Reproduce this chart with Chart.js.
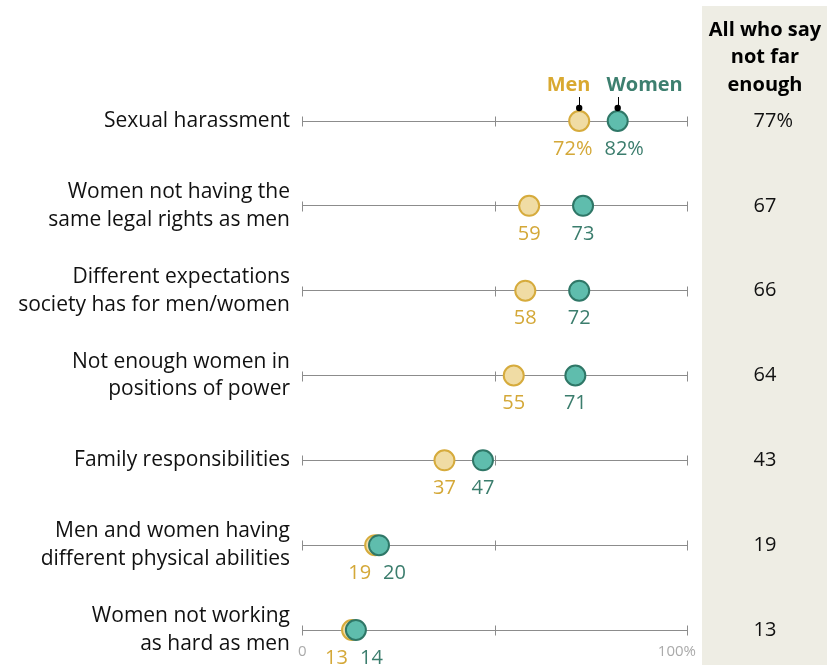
<!DOCTYPE html>
<html><head><meta charset="utf-8">
<script src="https://cdn.jsdelivr.net/npm/chart.js@4"></script>
<style>html,body{margin:0;padding:0;background:#fff}#wrap{width:827px;height:665px;position:relative}</style>
</head><body><div id="wrap"><canvas id="c" width="827" height="665"></canvas></div>
<script>
const categories = [
  ["Sexual harassment"],
  ["Women not having the", "same legal rights as men"],
  ["Different expectations", "society has for men/women"],
  ["Not enough women in", "positions of power"],
  ["Family responsibilities"],
  ["Men and women having", "different physical abilities"],
  ["Women not working", "as hard as men"]
];
const menValues = [72, 59, 58, 55, 37, 19, 13];
const womenValues = [82, 73, 72, 71, 47, 20, 14];
const allValues = [77, 67, 66, 64, 43, 19, 13];
const xTicks = [0, 50, 100];
const headerLines = ["All who say", "not far", "enough"];
const seriesNames = ["Men", "Women"];

const FONT = "'Open Sans', sans-serif";
const GOLD_FILL = "#F0DCA4", GOLD_LINE = "#D6AB3C", GOLD_TEXT = "#D4A838";
const TEAL_FILL = "#5FBDAD", TEAL_LINE = "#2F7767", TEAL_TEXT = "#3B7D6D";

const overlay = {
  id: 'overlay',
  beforeDraw(chart) {
    const ctx = chart.ctx;
    ctx.save();
    ctx.fillStyle = "#EEEDE4";
    ctx.fillRect(702, 6, 125, 659);
    ctx.fillStyle = "#000";
    ctx.font = "bold 20px " + FONT;
    ctx.textAlign = "center";
    ctx.textBaseline = "middle";
    headerLines.forEach((t, i) => ctx.fillText(t, 765, 30 + i * 27.5));
    ctx.restore();
  },
  beforeDatasetsDraw(chart) {
    const ctx = chart.ctx, xs = chart.scales.x, ys = chart.scales.y;
    ctx.save();
    ctx.strokeStyle = "#8c8c8c";
    ctx.lineWidth = 1;
    categories.forEach((c, i) => {
      const y = Math.round(ys.getPixelForValue(i)) + 0.5;
      xTicks.forEach(v => {
        const x = Math.round(xs.getPixelForValue(v)) + 0.5;
        ctx.beginPath(); ctx.moveTo(x, y - 5); ctx.lineTo(x, y + 5); ctx.stroke();
      });
    });
    ctx.restore();
  },
  afterDatasetsDraw(chart) {
    const ctx = chart.ctx, xs = chart.scales.x, ys = chart.scales.y;
    const menMeta = chart.getDatasetMeta(0), womMeta = chart.getDatasetMeta(1);
    ctx.save();
    ctx.font = "20px " + FONT;
    ctx.textBaseline = "middle";
    const gap = 6;
    categories.forEach((c, i) => {
      const m = menMeta.data[i], w = womMeta.data[i];
      const suffix = i === 0 ? "%" : "";
      const mt = menValues[i] + suffix, wt = womenValues[i] + suffix;
      const mw = ctx.measureText(mt).width, ww = ctx.measureText(wt).width;
      const mid = (m.x + w.x) / 2;
      const mRight = Math.min(m.x + mw / 2, mid - gap);
      const wLeft = Math.max(w.x - ww / 2, mid + gap);
      const ly = m.y + 28;
      ctx.textAlign = "left";
      ctx.fillStyle = GOLD_TEXT; ctx.fillText(mt, mRight - mw, ly);
      ctx.fillStyle = TEAL_TEXT; ctx.fillText(wt, wLeft, ly);
      ctx.fillStyle = "#111";
      const num = String(allValues[i]);
      const nw = ctx.measureText(num).width;
      ctx.fillText(num + suffix, 765 - nw / 2, m.y);
    });
    const m0 = menMeta.data[0], w0 = womMeta.data[0];
    ctx.font = "bold 20px " + FONT;
    const mid0 = (m0.x + w0.x) / 2;
    ctx.textAlign = "right"; ctx.fillStyle = "#D9A931";
    ctx.fillText(seriesNames[0], mid0 - 8, 85);
    ctx.textAlign = "left"; ctx.fillStyle = "#3D7F6F";
    ctx.fillText(seriesNames[1], mid0 + 8, 85);
    ctx.strokeStyle = "#000"; ctx.fillStyle = "#000"; ctx.lineWidth = 1;
    [m0.x, w0.x].forEach(x => {
      const xx = Math.round(x) + 0.5;
      ctx.beginPath(); ctx.moveTo(xx, 97); ctx.lineTo(xx, 108); ctx.stroke();
      ctx.beginPath(); ctx.arc(x, 108, 3.2, 0, Math.PI * 2); ctx.fill();
    });
    ctx.font = "15px " + FONT;
    ctx.fillStyle = "#aaaaaa";
    ctx.textAlign = "left";
    ctx.fillText(String(xTicks[0]), xs.getPixelForValue(xTicks[0]) - 4, 652);
    ctx.textAlign = "right";
    ctx.fillText(xTicks[2] + "%", xs.getPixelForValue(xTicks[2]) + 9, 652);
    ctx.restore();
  }
};

new Chart(document.getElementById('c'), {
  type: 'scatter',
  data: {
    datasets: [
      { label: seriesNames[0], data: menValues.map((v, i) => ({ x: v, y: i })),
        backgroundColor: GOLD_FILL, borderColor: GOLD_LINE, borderWidth: 2,
        pointRadius: 10, pointHoverRadius: 10, order: 1 },
      { label: seriesNames[1], data: womenValues.map((v, i) => ({ x: v, y: i })),
        backgroundColor: TEAL_FILL, borderColor: TEAL_LINE, borderWidth: 2,
        pointRadius: 10, pointHoverRadius: 10, order: 0 }
    ]
  },
  options: {
    responsive: false,
    animation: false,
    events: [],
    layout: { padding: { top: 121, bottom: 35, right: 140, left: 0 } },
    plugins: { legend: { display: false }, tooltip: { enabled: false } },
    scales: {
      x: { type: 'linear', min: 0, max: 100, display: false },
      y: {
        type: 'category', labels: categories, offset: false,
        afterFit(scale) { scale.width = 302; },
        border: { display: false },
        grid: { color: "#8c8c8c", lineWidth: 1, drawTicks: false },
        ticks: { color: "#111", padding: 12, font: { family: "'Open Sans', sans-serif", size: 21, lineHeight: 1.33 } }
      }
    }
  },
  plugins: [overlay]
});
</script></body></html>
